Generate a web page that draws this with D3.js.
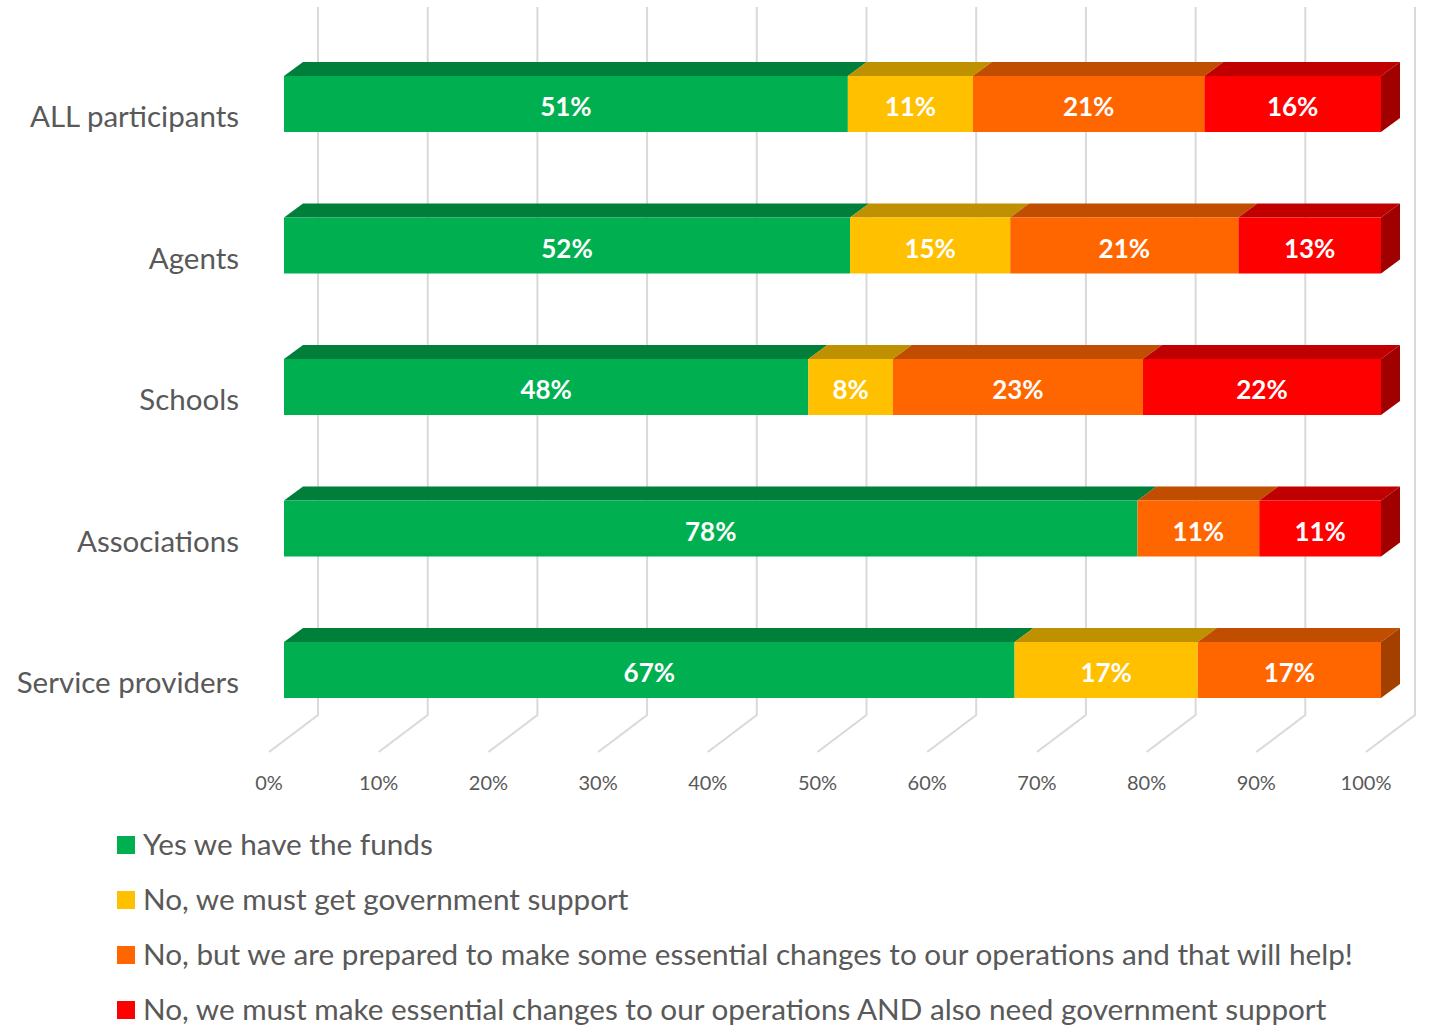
<!DOCTYPE html>
<html>
<head>
<meta charset="utf-8">
<script src="https://cdn.jsdelivr.net/npm/d3@7"></script>
<style>
  html, body { margin: 0; padding: 0; background: #fff; }
  svg { display: block; }
  text { font-family: Lato, "Open Sans", sans-serif; }
</style>
</head>
<body>
<svg id="chart" width="1429" height="1027"></svg>
<script>
const categories = ["ALL participants", "Agents", "Schools", "Associations", "Service providers"];
const seriesNames = [
  "Yes we have the funds",
  "No, we must get government support",
  "No, but we are prepared to make some essential changes to our operations and that will help!",
  "No, we must make essential changes to our operations AND also need government support"
];
const yesFunds      = [51.4, 51.6, 47.8, 77.8, 66.6];
const govSupport    = [11.4, 14.6, 7.7, 0, 16.7];
const someChanges   = [21.1, 20.8, 22.8, 11.1, 16.7];
const changesAndGov = [16.1, 13.0, 21.7, 11.1, 0];
const tickValues = [0, 10, 20, 30, 40, 50, 60, 70, 80, 90, 100];

const frontColors = ["#00B050", "#FFC000", "#FF6600", "#FF0000"];
const topColors   = ["#007F3A", "#BF9000", "#C04D00", "#C00000"];
const sideColors  = ["#006A30", "#A07800", "#A34000", "#A00000"];

const svg = d3.select("#chart");
const x = d3.scaleLinear().domain([0, 100]).range([284, 1381]);
const y = d3.scalePoint().domain(categories).range([104, 670]);
const barH = 56;
const depthX = 19, depthY = -14;
const wallX = 34, floorX = -15;
const gridTop = 7, wallBottom = 715, floorBottom = 752;

// gridlines (back wall + floor)
const grid = svg.append("g").attr("stroke", "#D9D9D9").attr("stroke-width", 2).attr("fill", "none");
tickValues.forEach(t => {
  const xb = x(t) + wallX, xf = x(t) + floorX;
  grid.append("path").attr("d", `M${xb},${gridTop}L${xb},${wallBottom}L${xf},${floorBottom}`);
});

// tick labels
svg.append("g").selectAll("text").data(tickValues).join("text")
  .attr("x", d => x(d) + floorX)
  .attr("y", 790)
  .attr("text-anchor", "middle")
  .attr("font-size", 20)
  .attr("fill", "#595959")
  .text(d => d + "%");

// stacked data
const series = [yesFunds, govSupport, someChanges, changesAndGov];
const bars = svg.append("g");
categories.forEach((cat, ci) => {
  let acc = 0;
  const segs = [];
  series.forEach((s, si) => {
    const v = s[ci];
    if (v > 0) segs.push({ si, x0: acc, x1: acc + v, v });
    acc += v;
  });
  const yc = y(cat), yt = yc - barH / 2, yb = yc + barH / 2;
  const g = bars.append("g");
  segs.forEach((sg, k) => {
    const a = x(sg.x0), b = x(Math.min(sg.x1, 100));
    g.append("path")
      .attr("d", `M${a},${yt}L${b},${yt}L${b + depthX},${yt + depthY}L${a + depthX},${yt + depthY}Z`)
      .attr("fill", topColors[sg.si]);
    g.append("rect").attr("x", a).attr("y", yt).attr("width", b - a).attr("height", barH)
      .attr("fill", frontColors[sg.si]);
    if (k === segs.length - 1) {
      g.append("path")
        .attr("d", `M${b},${yt}L${b + depthX},${yt + depthY}L${b + depthX},${yb + depthY}L${b},${yb}Z`)
        .attr("fill", sideColors[sg.si]);
    }
    g.append("text")
      .attr("x", (a + b) / 2)
      .attr("y", yc + 12)
      .attr("text-anchor", "middle")
      .attr("font-size", 26)
      .attr("font-weight", "bold")
      .attr("fill", "#fff")
      .text(Math.round(sg.v) + "%");
  });
});

// category labels
svg.append("g").selectAll("text").data(categories).join("text")
  .attr("x", 239)
  .attr("y", d => y(d) + 23)
  .attr("text-anchor", "end")
  .attr("font-size", 29.5)
  .attr("fill", "#595959")
  .text(d => d);

// legend
const legend = svg.append("g");
seriesNames.forEach((name, i) => {
  const ly = 845 + i * 55;
  legend.append("rect").attr("x", 117).attr("y", ly - 9).attr("width", 18).attr("height", 18)
    .attr("fill", frontColors[i]);
  legend.append("text").attr("x", 143).attr("y", ly + 10)
    .attr("font-size", 29.7).attr("fill", "#595959").text(name);
});
</script>
</body>
</html>
